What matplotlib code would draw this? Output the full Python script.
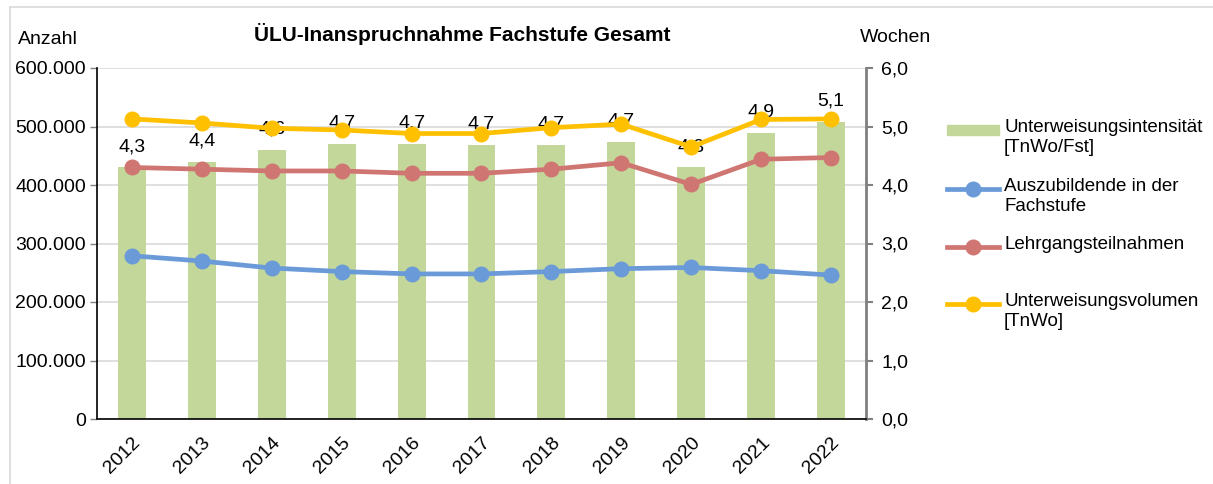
import matplotlib
matplotlib.use("Agg")
import matplotlib.pyplot as plt
from matplotlib.lines import Line2D
from matplotlib.patches import Rectangle
from matplotlib.ticker import FuncFormatter, FixedLocator, NullFormatter

plt.rcParams['font.family'] = ['Liberation Sans', 'DejaVu Sans']

years = ['2012', '2013', '2014', '2015', '2016', '2017', '2018', '2019', '2020', '2021', '2022']
intensitaet = [4.30, 4.40, 4.60, 4.70, 4.70, 4.68, 4.68, 4.73, 4.30, 4.89, 5.08]
intensitaet_labels = ['4,3', '4,4', '4,6', '4,7', '4,7', '4,7', '4,7', '4,7', '4,3', '4,9', '5,1']
auszubildende = [279000, 270000, 258000, 252000, 248000, 248000, 252000, 257000, 259000, 253500, 246000]
lehrgang = [430000, 427000, 424000, 424000, 420000, 420000, 427000, 438000, 401000, 444000, 447000]
volumen = [513000, 506000, 497000, 494000, 488000, 488000, 498000, 504000, 465000, 512000, 513000]

c_bar = '#c4d79b'
c_blue = '#6a9bd8'
c_red = '#d07672'
c_yellow = '#ffc000'

FS = 14

W, H = 1213, 484
fig = plt.figure(figsize=(W / 100, H / 100), dpi=100)

left, right, top, bottom = 97, 866, 68, 419
ax2 = fig.add_axes([left / W, 1 - bottom / H, (right - left) / W, (bottom - top) / H])
ax = ax2.twinx()
ax.set_zorder(ax2.get_zorder() + 1)
ax.patch.set_visible(False)

x = list(range(len(years)))

# Bars on right axis (Wochen)
ax2.bar(x, intensitaet, width=0.4, color=c_bar, zorder=2)
for xi, v, lab in zip(x, intensitaet, intensitaet_labels):
    ax2.annotate(lab, (xi, v), xytext=(0, 15), textcoords='offset points',
                 ha='center', va='center', fontsize=FS, color='black', zorder=5)
ax2.set_ylim(0, 6)
ax2.set_xlim(-0.5, len(years) - 0.5)
ax2.set_yticks([0, 1, 2, 3, 4, 5, 6])
ax2.grid(axis='y', color='#d9d9d9', linewidth=1.2)
ax2.set_axisbelow(True)

# Lines on left axis (Anzahl)
lw, ms = 3.4, 10.5
ax.plot(x, auszubildende, color=c_blue, lw=lw, marker='o', ms=ms, zorder=3)
ax.plot(x, lehrgang, color=c_red, lw=lw, marker='o', ms=ms, zorder=3)
ax.plot(x, volumen, color=c_yellow, lw=lw, marker='o', ms=ms, zorder=3)
ax.set_ylim(0, 600000)

ax.yaxis.tick_left()
ax.yaxis.set_label_position('left')
ax2.yaxis.tick_right()
ax2.yaxis.set_label_position('right')

ax.set_yticks([0, 100000, 200000, 300000, 400000, 500000, 600000])
ax.yaxis.set_major_formatter(FuncFormatter(lambda v, p: f"{int(v):,}".replace(',', '.')))
ax2.yaxis.set_major_formatter(FuncFormatter(lambda v, p: f"{v:.1f}".replace('.', ',')))

for a in (ax, ax2):
    for s in a.spines.values():
        s.set_visible(False)
ax.spines['left'].set_visible(True)
ax.spines['left'].set_color('black')
ax.spines['left'].set_linewidth(1.2)
ax2.spines['bottom'].set_visible(True)
ax2.spines['bottom'].set_color('black')
ax2.spines['bottom'].set_linewidth(1.2)
ax2.spines['right'].set_visible(True)
ax2.spines['right'].set_color('#808080')
ax2.spines['right'].set_linewidth(2)

ax.tick_params(axis='y', labelsize=FS, length=5, color='#808080', width=1, pad=3)
ax2.tick_params(axis='y', labelsize=FS, length=5, color='#808080', width=1.5, pad=6)

ax2.xaxis.set_major_locator(FixedLocator([i - 0.5 for i in range(len(years) + 1)]))
ax2.xaxis.set_major_formatter(NullFormatter())
ax2.xaxis.set_minor_locator(FixedLocator(x))
ax2.set_xticklabels(years, minor=True, rotation=45, ha='right', rotation_mode='anchor', fontsize=FS)
ax2.tick_params(axis='x', which='major', length=6, color='#808080', width=1)
ax2.tick_params(axis='x', which='minor', length=0, pad=11)
ax.set_xticks([])

fig.text(462 / W, 1 - 34 / H, 'ÜLU-Inanspruchnahme Fachstufe Gesamt', ha='center', va='center',
         fontsize=15, fontweight='bold')
fig.text(18 / W, 1 - 40 / H, 'Anzahl', ha='left', va='center', fontsize=FS)
fig.text(860 / W, 1 - 37 / H, 'Wochen', ha='left', va='center', fontsize=FS)

fig.add_artist(Line2D([10 / W, 1], [1 - 7 / H, 1 - 7 / H], color='#d9d9d9', lw=1.2, transform=fig.transFigure))
fig.add_artist(Line2D([10 / W, 10 / W], [0, 1 - 7 / H], color='#d9d9d9', lw=1.2, transform=fig.transFigure))

hx0, hx1, tx = 947, 999, 1004
entries = [
    ('bar', c_bar, 130, 'Unterweisungsintensität\n[TnWo/Fst]'),
    ('line', c_blue, 189, 'Auszubildende in der\nFachstufe'),
    ('line', c_red, 247, 'Lehrgangsteilnahmen'),
    ('line', c_yellow, 304, 'Unterweisungsvolumen\n[TnWo]'),
]
for kind, col, yy, lab in entries:
    yf = 1 - yy / H
    if kind == 'bar':
        fig.add_artist(Rectangle((hx0 / W, yf - 5 / H), (hx1 - hx0) / W, 10 / H, color=col,
                                 transform=fig.transFigure))
    else:
        fig.add_artist(Line2D([hx0 / W, hx1 / W], [yf, yf], color=col, lw=lw, transform=fig.transFigure))
        fig.add_artist(Line2D([(hx0 + hx1) / 2 / W], [yf], color=col, marker='o', ms=ms,
                              transform=fig.transFigure))
    fig.text(tx / W, yf + 11 / H, lab, ha='left', va='top', fontsize=13.5, linespacing=1.2)

fig.savefig('out.png', dpi=100, facecolor='white')
